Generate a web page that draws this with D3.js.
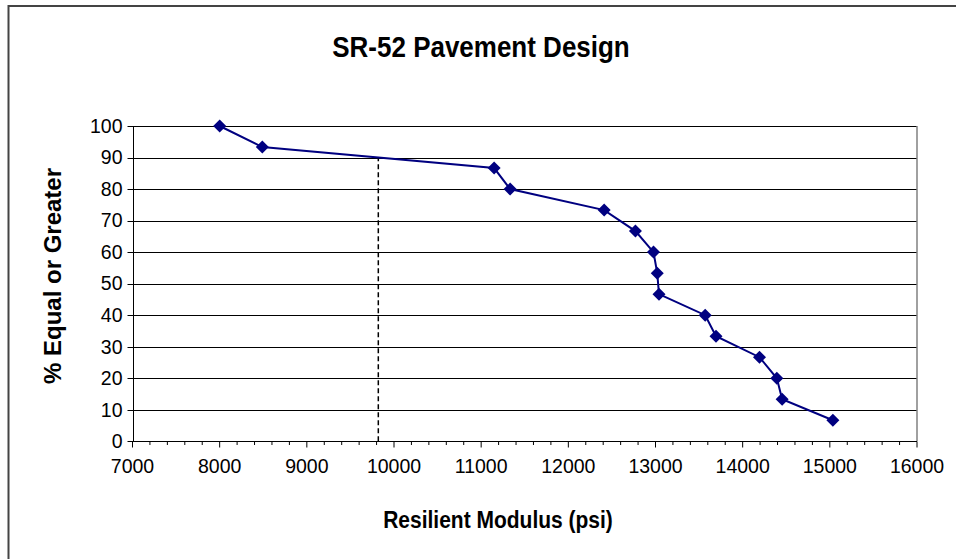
<!DOCTYPE html>
<html><head><meta charset="utf-8">
<script src="https://cdn.jsdelivr.net/npm/d3@7"></script>
<style>body{margin:0;background:#fff}svg{display:block}text{font-family:"Liberation Sans",Arial,sans-serif}</style>
</head><body><svg id="c" width="956" height="559"></svg>
<script>
const modulus = [8000, 8489, 11149, 11332, 12411, 12770, 12977, 13020, 13040, 13570, 13694, 14193, 14392, 14453, 15035];
const pctGreater = [100, 93.33, 86.67, 80, 73.33, 66.67, 60, 53.33, 46.67, 40, 33.33, 26.67, 20, 13.33, 6.67];
const designModulus = 9820;
const designPct = 90;
const xTicks = [7000, 8000, 9000, 10000, 11000, 12000, 13000, 14000, 15000, 16000];
const yTicks = [0, 10, 20, 30, 40, 50, 60, 70, 80, 90, 100];

const svg = d3.select("#c");
const L = 132.5, R = 917, T = 126, B = 441.3;
const x = d3.scaleLinear().domain([7000, 16000]).range([L, R]);
const y = d3.scaleLinear().domain([0, 100]).range([B, T]);

// chart frame
svg.append("rect").attr("x", 8.5).attr("y", 6).attr("width", 960).attr("height", 560)
  .attr("fill", "#fff").attr("stroke", "#444").attr("stroke-width", 2);

// gridlines
svg.append("g").selectAll("line").data(yTicks.filter(d => d > 0)).join("line")
  .attr("x1", L).attr("x2", R).attr("y1", d => Math.round(y(d)) + 0.5).attr("y2", d => Math.round(y(d)) + 0.5)
  .attr("stroke", "#000").attr("stroke-width", 1);
// plot right border
svg.append("line").attr("x1", R).attr("x2", R).attr("y1", T).attr("y2", B)
  .attr("stroke", "#808080").attr("stroke-width", 1.5);

// x axis
const xAxis = svg.append("g").attr("transform", `translate(0,${Math.round(B) + 0.5})`);
xAxis.append("line").attr("x1", L).attr("x2", R).attr("stroke", "#000");
const minor = d3.range(7000, 16001, 200);
xAxis.selectAll("line.mn").data(minor).join("line").attr("class", "mn")
  .attr("x1", d => x(d)).attr("x2", d => x(d)).attr("y1", 0).attr("y2", d => d % 1000 === 0 ? 6 : 3.5)
  .attr("stroke", "#000");
xAxis.selectAll("text").data(xTicks).join("text")
  .attr("x", d => x(d)).attr("y", 31).attr("text-anchor", "middle")
  .attr("font-size", 19.5).text(d => d);

// y axis
const yAxis = svg.append("g").attr("transform", `translate(${Math.round(L) + 0.5},0)`);
yAxis.append("line").attr("y1", T).attr("y2", B).attr("stroke", "#000");
yAxis.selectAll("line.t").data(yTicks).join("line").attr("class", "t")
  .attr("x1", -6).attr("x2", 0).attr("y1", d => Math.round(y(d)) + 0.5).attr("y2", d => Math.round(y(d)) + 0.5)
  .attr("stroke", "#000");
yAxis.selectAll("text").data(yTicks).join("text")
  .attr("x", -11).attr("y", d => y(d)).attr("dy", "0.35em").attr("text-anchor", "end")
  .attr("font-size", 19.5).text(d => d);

// dashed design line
svg.append("line").attr("x1", x(designModulus)).attr("x2", x(designModulus))
  .attr("y1", y(0)).attr("y2", y(designPct))
  .attr("stroke", "#000").attr("stroke-width", 1.5).attr("stroke-dasharray", "5,3");

// series
const pts = modulus.map((m, i) => [m, pctGreater[i]]);
svg.append("path").datum(pts)
  .attr("d", d3.line().x(d => x(d[0])).y(d => y(d[1])))
  .attr("fill", "none").attr("stroke", "#000080").attr("stroke-width", 2);
svg.append("g").selectAll("path").data(pts).join("path")
  .attr("transform", d => `translate(${x(d[0])},${y(d[1])})`)
  .attr("d", "M0,-6.5L6.5,0L0,6.5L-6.5,0Z").attr("fill", "#000080");

// titles
svg.append("text").attr("transform", "translate(481,57) scale(1,1.15)").attr("text-anchor", "middle")
  .attr("font-size", 26).attr("font-weight", "bold").text("SR-52 Pavement Design");
svg.append("text").attr("transform", "translate(498,528) scale(1,1.15)").attr("text-anchor", "middle")
  .attr("font-size", 21).attr("font-weight", "bold").text("Resilient Modulus (psi)");
svg.append("text").attr("transform", "translate(61,276) rotate(-90)").attr("text-anchor", "middle")
  .attr("font-size", 24).attr("font-weight", "bold").text("% Equal or Greater");
</script></body></html>
